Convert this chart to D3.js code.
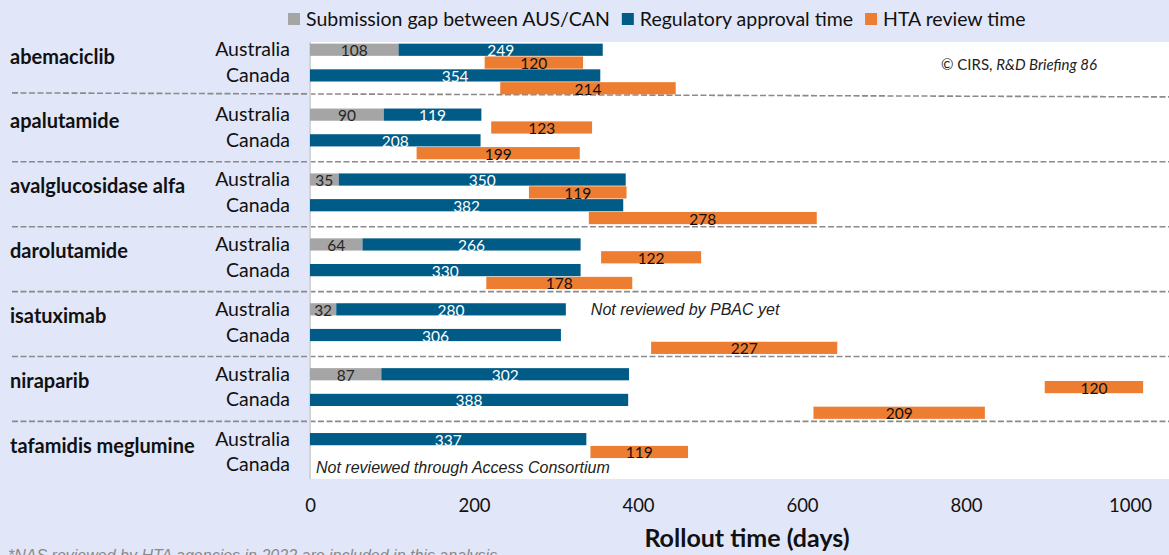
<!DOCTYPE html>
<html>
<head>
<meta charset="utf-8">
<script src="https://cdn.jsdelivr.net/npm/d3@7"></script>
<style>
  body { margin: 0; background: #e1e7f9; }
  svg { display: block; font-family: Lato, "Open Sans", sans-serif; }
</style>
</head>
<body>
<div id="chart"></div>
<script>
// data (days)
var drugs = ["abemaciclib", "apalutamide", "avalglucosidase alfa", "darolutamide",
             "isatuximab", "niraparib", "tafamidis meglumine"];
var ausGap      = [108, 90, 35, 64, 32, 87, null];
var ausReg      = [249, 119, 350, 266, 280, 302, 337];
var ausHtaStart = [213, 221, 267, 355, null, 896, 342];
var ausHta      = [120, 123, 119, 122, null, 120, 119];
var canReg      = [354, 208, 382, 330, 306, 388, null];
var canHtaStart = [232, 130, 340, 215, 416, 614, null];
var canHta      = [214, 199, 278, 178, 227, 209, null];
var ticks = [0, 200, 400, 600, 800, 1000];
var seriesNames = ["Submission gap between AUS/CAN", "Regulatory approval time", "HTA review time"];
var colors = ["#a5a5a5", "#005b86", "#ed7d31"];

var W = 1169, H = 555;
var plot = {left: 310, right: 1169, top: 42, bottom: 479};

var svg = d3.select("#chart").append("svg")
    .attr("width", W)
    .attr("height", H);

svg.append("rect").attr("width", W).attr("height", H).attr("fill", "#e1e7f9");

// white plot area
svg.append("rect")
    .attr("x", plot.left).attr("y", plot.top)
    .attr("width", plot.right - plot.left).attr("height", plot.bottom - plot.top)
    .attr("fill", "#ffffff");

var x = d3.scaleLinear().domain([0, 1000]).range([310, 1130]);

// one band per drug, four lanes inside
var y = d3.scaleBand().domain(drugs).range([32, 32 + 7 * 64.9]);
var lane = d3.scaleBand()
    .domain(["ausReg", "ausHta", "canReg", "canHta"])
    .range([11, 63])
    .padding(0.05);
var bh = lane.bandwidth();

// build the segments
var segs = [];
drugs.forEach(function(d, i) {
    var g = ausGap[i] || 0;
    if (ausGap[i]) segs.push({drug: d, lane: "ausReg", x0: 0, x1: g, v: g, s: 0});
    if (ausReg[i]) segs.push({drug: d, lane: "ausReg", x0: g, x1: g + ausReg[i], v: ausReg[i], s: 1});
    if (ausHta[i]) segs.push({drug: d, lane: "ausHta", x0: ausHtaStart[i], x1: ausHtaStart[i] + ausHta[i], v: ausHta[i], s: 2});
    if (canReg[i]) segs.push({drug: d, lane: "canReg", x0: 0, x1: canReg[i], v: canReg[i], s: 1});
    if (canHta[i]) segs.push({drug: d, lane: "canHta", x0: canHtaStart[i], x1: canHtaStart[i] + canHta[i], v: canHta[i], s: 2});
});

// dashed separators
drugs.forEach(function(d, i) {
    if (i == 0) return;
    var yy = y(d);
    svg.append("line")
        .attr("x1", 12).attr("x2", W)
        .attr("y1", i == 1 ? yy - 4 : yy).attr("y2", yy)
        .attr("stroke", "#8a8a8a")
        .attr("stroke-width", 1.6)
        .attr("stroke-dasharray", "6,2.5");
});

// vertical axis line
svg.append("line")
    .attr("x1", x(0)).attr("x2", x(0))
    .attr("y1", plot.top).attr("y2", plot.bottom)
    .attr("stroke", "#d4d4d4")
    .attr("stroke-width", 2);

svg.selectAll(".bar")
    .data(segs)
    .enter()
    .append("rect")
    .attr("class", "bar")
    .attr("x", function(d) { return x(d.x0); })
    .attr("y", function(d) { return y(d.drug) + lane(d.lane); })
    .attr("width", function(d) { return x(d.x1) - x(d.x0); })
    .attr("height", bh)
    .attr("fill", function(d) { return colors[d.s]; });

svg.selectAll(".lbl")
    .data(segs)
    .enter()
    .append("text")
    .attr("class", "lbl")
    .attr("x", function(d) { return (x(d.x0) + x(d.x1)) / 2; })
    .attr("y", function(d) { return y(d.drug) + lane(d.lane) + bh / 2 + 6.5; })
    .attr("text-anchor", "middle")
    .style("font-size", "15.5px")
    .attr("fill", function(d) { return d.s == 1 ? "#ffffff" : (d.s == 0 ? "#262626" : "#111111"); })
    .text(function(d) { return d.v; });

// country and drug labels
drugs.forEach(function(d) {
    svg.append("text")
        .attr("x", 10).attr("y", y(d) + 31.5)
        .style("font-size", "20px").style("font-weight", "bold")
        .attr("fill", "#111")
        .text(d);
    svg.append("text")
        .attr("x", 290).attr("y", y(d) + lane("ausReg") + bh / 2 + 6.5)
        .attr("text-anchor", "end")
        .style("font-size", "19.5px").attr("fill", "#111")
        .text("Australia");
    svg.append("text")
        .attr("x", 290).attr("y", y(d) + lane("canReg") + bh / 2 + 6.5)
        .attr("text-anchor", "end")
        .style("font-size", "19.5px").attr("fill", "#111")
        .text("Canada");
});

// notes
svg.append("text")
    .attr("x", x(ausGap[4] + ausReg[4]) + 25)
    .attr("y", y("isatuximab") + lane("ausReg") + bh / 2 + 5.5)
    .style("font-family", "'Liberation Sans', Arial, sans-serif")
    .style("font-style", "italic").style("font-size", "16px")
    .attr("fill", "#222")
    .text("Not reviewed by PBAC yet");

svg.append("text")
    .attr("x", x(0) + 6)
    .attr("y", y("tafamidis meglumine") + lane("canReg") + bh / 2 + 8.5)
    .style("font-family", "'Liberation Sans', Arial, sans-serif")
    .style("font-style", "italic").style("font-size", "16px")
    .attr("fill", "#222")
    .text("Not reviewed through Access Consortium");

var copy = svg.append("text")
    .attr("x", 941).attr("y", 70)
    .style("font-size", "15px").attr("fill", "#222");
copy.append("tspan").text("© CIRS, ");
copy.append("tspan").style("font-style", "italic").text("R&D Briefing 86");

// x axis
var xAxis = svg.append("g")
    .attr("transform", "translate(0," + plot.bottom + ")")
    .call(d3.axisBottom(x).tickValues(ticks).tickFormat(d3.format("d")).tickSize(0).tickPadding(20));
xAxis.select(".domain").remove();
xAxis.selectAll("text")
    .style("font-family", "Lato, sans-serif")
    .style("font-size", "18.5px")
    .attr("fill", "#111");

svg.append("text")
    .attr("x", 747).attr("y", 547)
    .attr("text-anchor", "middle")
    .style("font-size", "25px").style("font-weight", "bold")
    .attr("fill", "#111")
    .text("Rollout time (days)");

svg.append("text")
    .attr("x", 8).attr("y", 561)
    .style("font-family", "'Liberation Sans', Arial, sans-serif")
    .style("font-style", "italic").style("font-size", "16px")
    .attr("fill", "#8a8a8a")
    .text("*NAS reviewed by HTA agencies in 2022 are included in this analysis");

// legend
var lx = 288;
seriesNames.forEach(function(name, i) {
    svg.append("rect")
        .attr("x", lx).attr("y", 13)
        .attr("width", 12).attr("height", 12)
        .attr("fill", colors[i]);
    var t = svg.append("text")
        .attr("x", lx + 18).attr("y", 26)
        .style("font-size", "19.5px").attr("fill", "#111")
        .text(name);
    lx = lx + 18 + t.node().getComputedTextLength() + 12;
});
</script>
</body>
</html>
